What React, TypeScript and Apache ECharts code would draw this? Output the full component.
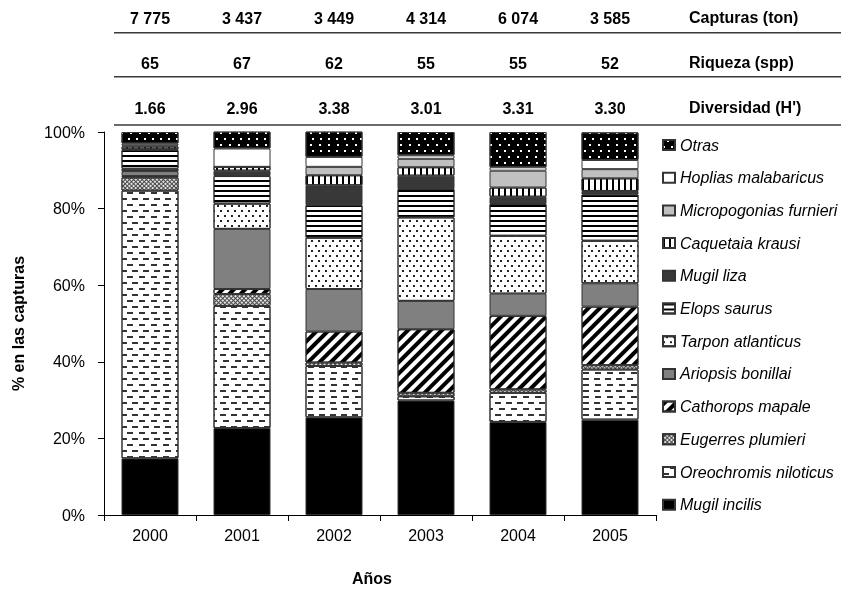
import React, { useEffect, useRef } from 'react';
import * as echarts from 'echarts';

const years = ['2000', '2001', '2002', '2003', '2004', '2005'];
const capturas = ['7 775', '3 437', '3 449', '4 314', '6 074', '3 585'];
const riqueza = ['65', '67', '62', '55', '55', '52'];
const diversidad = ['1.66', '2.96', '3.38', '3.01', '3.31', '3.30'];
const rowLabels = ['Capturas (ton)', 'Riqueza (spp)', "Diversidad (H')"];

// % of catch per species (bottom to top)
const mugilIncilis = [14.8, 22.7, 25.5, 29.9, 24.3, 24.9];
const oreochromis = [69.9, 31.9, 13.4, 1.1, 7.6, 13.1];
const eugerres = [3.4, 3.1, 0.9, 0.9, 0.9, 1.1];
const cathorops = [0.4, 1.3, 8.1, 16.6, 19.2, 15.3];
const ariopsis = [1.3, 15.7, 11.1, 7.4, 5.8, 6.1];
const tarpon = [0.6, 6.6, 13.4, 21.8, 15.1, 11.1];
const elops = [4.9, 7.2, 8.5, 7.4, 8.3, 12.1];
const mugilLiza = [0.2, 1.4, 5.2, 3.5, 1.9, 0.9];
const caquetaia = [0.7, 1.0, 2.6, 2.2, 2.4, 3.3];
const micropogonias = [0.3, 0, 2.2, 2.2, 4.4, 2.4];
const hoplias = [0.5, 4.8, 2.6, 0.9, 0.9, 2.4];
const otras = [3.0, 4.4, 6.6, 6.1, 9.2, 7.2];

const FONT = "'Liberation Sans', Arial, sans-serif";

const seriesDefs: { name: string; data: number[]; color: string; decal?: any }[] = [
  { name: 'Mugil incilis', data: mugilIncilis, color: '#000000' },
  {
    name: 'Oreochromis niloticus', data: oreochromis, color: '#ffffff',
    decal: { symbol: 'rect', symbolSize: 1, symbolKeepAspect: false, color: '#333333', dashArrayX: [[6, 5], [0.5, 5.5, 5, 0]], dashArrayY: [1.4, 3.4] },
  },
  {
    name: 'Eugerres plumieri', data: eugerres, color: '#4a4a4a',
    decal: { symbol: 'rect', symbolSize: 1, symbolKeepAspect: false, color: '#e6e6e6', dashArrayX: [2, 1], dashArrayY: [2, 1], rotation: Math.PI / 4 },
  },
  {
    name: 'Cathorops mapale', data: cathorops, color: '#ffffff',
    decal: { symbol: 'rect', symbolSize: 1, symbolKeepAspect: false, color: '#000000', dashArrayX: [10, 0], dashArrayY: [3.2, 3.2], rotation: -Math.PI / 4 },
  },
  { name: 'Ariopsis bonillai', data: ariopsis, color: '#808080' },
  {
    name: 'Tarpon atlanticus', data: tarpon, color: '#ffffff',
    decal: { symbol: 'rect', symbolSize: 1, symbolKeepAspect: false, color: '#222222', dashArrayX: [[1.2, 4.8], [0, 3, 1.2, 1.8]], dashArrayY: [1.2, 2.6] },
  },
  {
    name: 'Elops saurus', data: elops, color: '#ffffff',
    decal: { symbol: 'rect', symbolSize: 1, symbolKeepAspect: false, color: '#000000', dashArrayX: [10, 0], dashArrayY: [2, 2.7] },
  },
  { name: 'Mugil liza', data: mugilLiza, color: '#383838' },
  {
    name: 'Caquetaia kraussi', data: caquetaia, color: '#ffffff',
    decal: { symbol: 'rect', symbolSize: 1, symbolKeepAspect: false, color: '#000000', dashArrayX: [2, 3.5], dashArrayY: [10, 0] },
  },
  { name: 'Micropogonias furnieri', data: micropogonias, color: '#c0c0c0' },
  { name: 'Hoplias malabaricus', data: hoplias, color: '#ffffff' },
  {
    name: 'Otras', data: otras, color: '#000000',
    decal: { symbol: 'rect', symbolSize: 1, symbolKeepAspect: false, color: '#ffffff', dashArrayX: [[1.2, 5.8], [0, 3.5, 1.2, 2.3]], dashArrayY: [1.2, 3.8] },
  },
];

const legendNames = [
  'Otras', 'Hoplias malabaricus', 'Micropogonias furnieri', 'Caquetaia kraussi', 'Mugil liza',
  'Elops saurus', 'Tarpon atlanticus', 'Ariopsis bonillai', 'Cathorops mapale', 'Eugerres plumieri',
  'Oreochromis niloticus', 'Mugil incilis',
];
const legendLabels: Record<string, string> = { 'Caquetaia kraussi': 'Caquetaia krausi' };

const headerRows = [capturas, riqueza, diversidad];
const headerCenters = [18, 63, 108];
const headerLines = [32.7, 76.7, 125];

export default function App() {
  const ref = useRef<HTMLDivElement>(null);
  useEffect(() => {
    if (!ref.current) return;
    const chart = echarts.init(ref.current, null, { renderer: 'svg' });
    const gridTop = 132;
    const option: any = {
      animation: false,
      textStyle: { fontFamily: FONT },
      grid: { left: 104, right: 207, top: gridTop, bottom: 76 },
      legend: {
        orient: 'vertical',
        left: 657,
        top: 132,
        itemWidth: 12,
        itemHeight: 10,
        itemGap: 16.7,
        icon: 'rect',
        data: legendNames,
        formatter: (n: string) => legendLabels[n] || n,
        textStyle: { fontFamily: FONT, fontStyle: 'italic', fontSize: 16, color: '#000' },
        selectedMode: false,
      },
      xAxis: [
        {
          type: 'category',
          data: years,
          name: 'Años',
          nameLocation: 'middle',
          nameGap: 55,
          nameTextStyle: { fontFamily: FONT, fontWeight: 'bold', fontSize: 16, color: '#000', padding: [0, 16, 0, 0] },
          axisLine: { lineStyle: { color: '#000', width: 1 } },
          axisTick: { show: true, length: 6, lineStyle: { color: '#000' } },
          axisLabel: { fontFamily: FONT, fontSize: 16, color: '#000', margin: 12 },
        },
        ...headerRows.map((row, i) => ({
          type: 'category',
          data: row,
          position: 'top',
          offset: gridTop - headerCenters[i],
          axisLine: { show: false },
          axisTick: { show: false },
          axisLabel: { fontFamily: FONT, fontSize: 16, fontWeight: 'bold', color: '#000', margin: 0, verticalAlign: 'middle' },
        })),
      ],
      yAxis: {
        type: 'value',
        min: 0,
        max: 100,
        interval: 20,
        name: '% en las capturas',
        nameLocation: 'middle',
        nameGap: 78,
        nameTextStyle: { fontFamily: FONT, fontWeight: 'bold', fontSize: 16, color: '#000' },
        axisLine: { show: true, lineStyle: { color: '#000', width: 1 } },
        axisTick: { show: true, length: 6, lineStyle: { color: '#000' } },
        axisLabel: { fontFamily: FONT, fontSize: 16, color: '#000', margin: 19, formatter: '{value}%' },
        splitLine: { show: false },
      },
      series: seriesDefs.map((s) => ({
        type: 'bar',
        name: s.name,
        stack: 'total',
        data: s.data,
        barWidth: 57,
        itemStyle: { color: s.color, borderColor: '#333', borderWidth: 1, decal: s.decal },
        emphasis: { disabled: true },
      })),
      graphic: [
        ...headerLines.map((y) => ({
          type: 'line',
          shape: { x1: 114, y1: y, x2: 841, y2: y },
          style: { stroke: '#3a3a3a', lineWidth: 1.5 },
        })),
        ...rowLabels.map((t, i) => ({
          type: 'text',
          left: 689,
          top: headerCenters[i] - 9,
          style: { text: t, fontFamily: FONT, fontSize: 16, fontWeight: 'bold', fill: '#000' },
        })),
      ],
    };
    chart.setOption(option);
    return () => chart.dispose();
  }, []);
  return <div ref={ref} style={{ position: 'fixed', left: 0, top: 0, width: 863, height: 591 }} />;
}
